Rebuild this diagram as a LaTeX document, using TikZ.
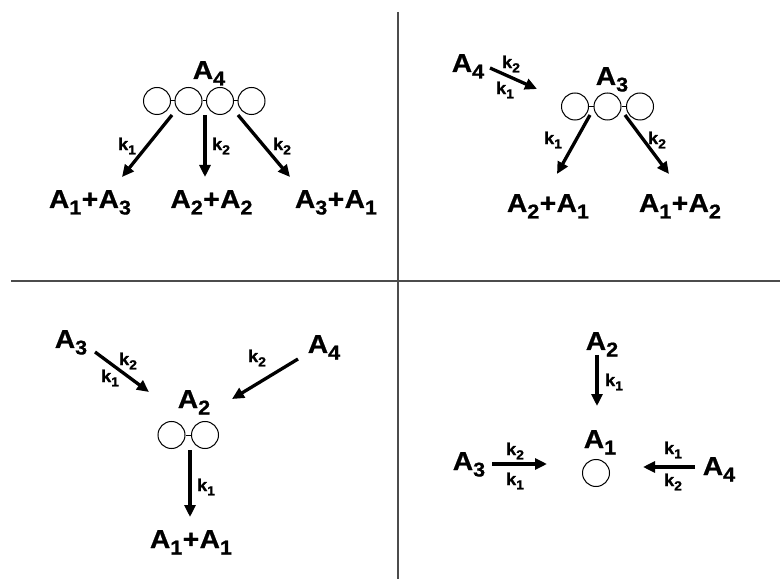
\documentclass[tikz,border=0pt]{standalone}
\usepackage{fontspec}
\setmainfont{Liberation Sans}
\newfontfamily\lblfont[FakeStretch=1.08, BoldFeatures={FakeBold=0.8}]{Liberation Sans}
\usetikzlibrary{arrows.meta}
\newcommand\Ai[1]{A\raisebox{-0.25em}{\fontsize{20}{20}\selectfont #1}}
\newcommand\kk[1]{k\raisebox{-0.25em}{\fontsize{13}{13}\selectfont #1}}
\newcommand\pl{\hspace{0.5pt}+\hspace{0.5pt}}
\tikzset{
  lab/.style={font=\lblfont\bfseries\fontsize{26}{26}\selectfont, inner sep=0pt, anchor=base},
  kl/.style={font=\lblfont\bfseries\fontsize{17}{17}\selectfont, inner sep=0pt},
  arr/.style={line width=3.3pt, -{Triangle[length=12pt,width=11pt]}},
  mol/.style={circle, draw, line width=1pt, minimum size=27pt, inner sep=0pt},
  bond/.style={line width=1pt},
  sepline/.style={draw=black!70, line width=1.3pt}
}
\begin{document}
\begin{tikzpicture}[x=1pt,y=-1pt]
\useasboundingbox (0,0) rectangle (780,580);
% separators
\coordinate (vt) at (398,12); \coordinate (vb) at (398,579);
\coordinate (hl) at (11,281); \coordinate (hr) at (780,281);
\draw[sepline] (vt) -- (vb);
\draw[sepline] (hl) -- (hr);

% ---------- Q1 ----------
\node[lab] (q1a4) at (209,79) {\Ai{4}};
\node[mol] (q1c1) at (157,101) {};
\node[mol] (q1c2) at (188.5,101) {};
\node[mol] (q1c3) at (220,101) {};
\node[mol] (q1c4) at (251.5,101) {};
\draw[bond] (q1c1) -- (q1c2); \draw[bond] (q1c2) -- (q1c3); \draw[bond] (q1c3) -- (q1c4);
\node[lab] (q1p1) at (90,208) {\Ai{1}\pl\Ai{3}};
\node[lab] (q1p2) at (211.5,208) {\Ai{2}\pl\Ai{2}};
\node[lab] (q1p3) at (336,208) {\Ai{3}\pl\Ai{1}};
\coordinate (q1s1) at (172,115); \coordinate (q1e1) at (122,177);
\coordinate (q1s2) at (205,115); \coordinate (q1e2) at (205,177);
\coordinate (q1s3) at (238,115); \coordinate (q1e3) at (290,177);
\draw[arr] (q1s1) -- (q1e1);
\draw[arr] (q1s2) -- (q1e2);
\draw[arr] (q1s3) -- (q1e3);
\node[kl] (q1k1) at (127,146) {\kk{1}};
\node[kl] (q1k2) at (221,146) {\kk{2}};
\node[kl] (q1k3) at (282,146) {\kk{2}};

% ---------- Q2 ----------
\node[lab] (q2a4) at (468,72) {\Ai{4}};
\coordinate (q2s0) at (490,68); \coordinate (q2e0) at (537,89);
\draw[arr] (q2s0) -- (q2e0);
\node[kl] (q2k0a) at (511,64) {\kk{2}};
\node[kl] (q2k0b) at (505,90) {\kk{1}};
\node[lab] (q2a3) at (612,85) {\Ai{3}};
\node[mol] (q2c1) at (575,106.5) {};
\node[mol] (q2c2) at (607.5,106.5) {};
\node[mol] (q2c3) at (640,106.5) {};
\draw[bond] (q2c1) -- (q2c2); \draw[bond] (q2c2) -- (q2c3);
\coordinate (q2s1) at (590,115); \coordinate (q2e1) at (557,174);
\coordinate (q2s2) at (625,115); \coordinate (q2e2) at (669,174);
\draw[arr] (q2s1) -- (q2e1);
\draw[arr] (q2s2) -- (q2e2);
\node[kl] (q2k1) at (553,140) {\kk{1}};
\node[kl] (q2k2) at (657,140) {\kk{2}};
\node[lab] (q2p1) at (548,212) {\Ai{2}\pl\Ai{1}};
\node[lab] (q2p2) at (680,212) {\Ai{1}\pl\Ai{2}};

% ---------- Q3 ----------
\node[lab] (q3a3) at (71,348) {\Ai{3}};
\coordinate (q3s1) at (95,352); \coordinate (q3e1) at (149,392);
\draw[arr] (q3s1) -- (q3e1);
\node[kl] (q3k1a) at (128,361) {\kk{2}};
\node[kl] (q3k1b) at (110,378) {\kk{1}};
\node[lab] (q3a4) at (324,353) {\Ai{4}};
\coordinate (q3s2) at (298,359); \coordinate (q3e2) at (232,399);
\draw[arr] (q3s2) -- (q3e2);
\node[kl] (q3k2) at (257,358) {\kk{2}};
\node[lab] (q3a2) at (194,408) {\Ai{2}};
\node[mol] (q3c1) at (171.5,435) {};
\node[mol] (q3c2) at (205,435) {};
\draw[bond] (q3c1) -- (q3c2);
\coordinate (q3s3) at (190,450); \coordinate (q3e3) at (190,517);
\draw[arr] (q3s3) -- (q3e3);
\node[kl] (q3k3) at (206,487) {\kk{1}};
\node[lab] (q3p) at (191,548) {\Ai{1}\pl\Ai{1}};

% ---------- Q4 ----------
\node[lab] (q4a2) at (602,350) {\Ai{2}};
\coordinate (q4s1) at (597,355); \coordinate (q4e1) at (597,406);
\draw[arr] (q4s1) -- (q4e1);
\node[kl] (q4k1) at (614,382) {\kk{1}};
\node[lab] (q4a1) at (600,448) {\Ai{1}};
\node[mol] (q4c) at (596,473) {};
\node[lab] (q4a3) at (469,470) {\Ai{3}};
\coordinate (q4s2) at (492,464); \coordinate (q4e2) at (547,464);
\draw[arr] (q4s2) -- (q4e2);
\node[kl] (q4k2a) at (515,451) {\kk{2}};
\node[kl] (q4k2b) at (515,481) {\kk{1}};
\node[lab] (q4a4) at (719,475) {\Ai{4}};
\coordinate (q4s3) at (695,467); \coordinate (q4e3) at (643,467);
\draw[arr] (q4s3) -- (q4e3);
\node[kl] (q4k3a) at (673,450) {\kk{1}};
\node[kl] (q4k3b) at (673,482) {\kk{2}};
\end{tikzpicture}
\end{document}
